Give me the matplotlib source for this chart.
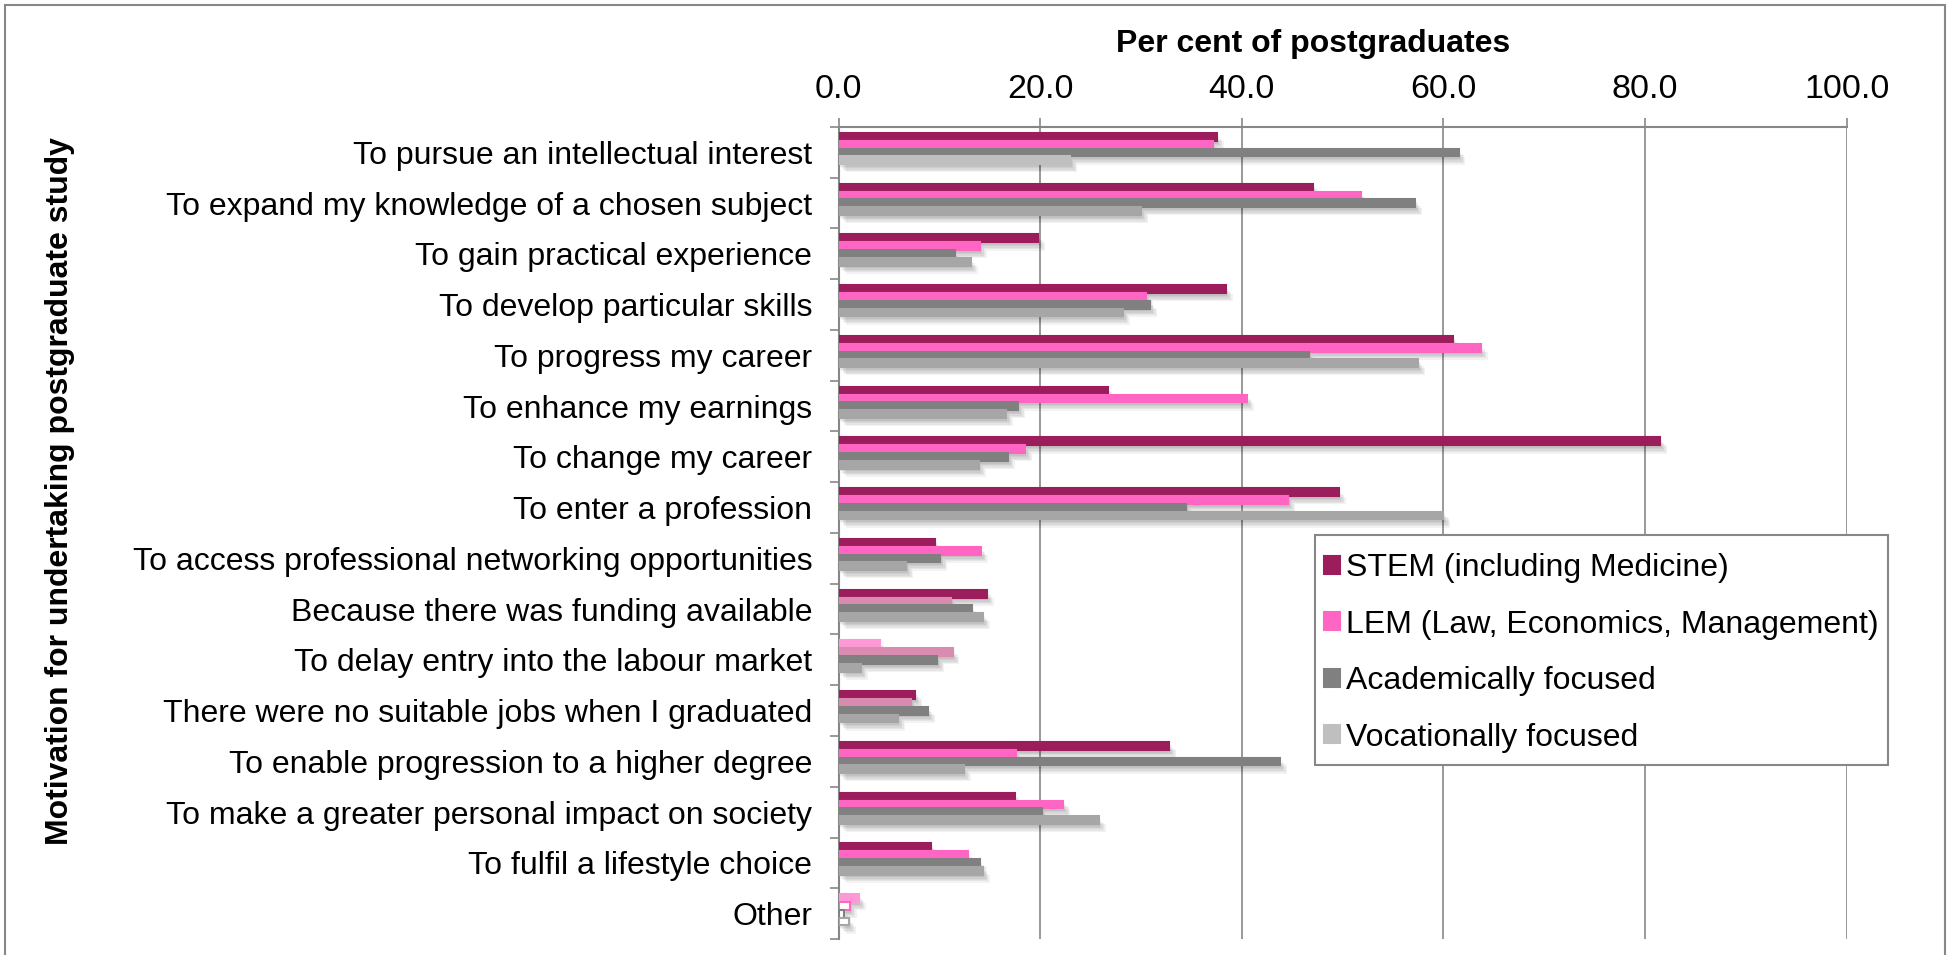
import matplotlib
matplotlib.use("Agg")
import matplotlib.pyplot as plt
import matplotlib.patheffects as pe
from matplotlib.patches import Rectangle
import numpy as np

plt.rcParams['font.family'] = ['Liberation Sans', 'DejaVu Sans']

categories = [
    "To pursue an intellectual interest",
    "To expand my knowledge of a chosen subject",
    "To gain practical experience",
    "To develop particular skills",
    "To progress my career",
    "To enhance my earnings",
    "To change my career",
    "To enter a profession",
    "To access professional networking opportunities",
    "Because there was funding available",
    "To delay entry into the labour market",
    "There were no suitable jobs when I graduated",
    "To enable progression to a higher degree",
    "To make a greater personal impact on society",
    "To fulfil a lifestyle choice",
    "Other",
]

series_names = [
    "STEM (including Medicine)",
    "LEM (Law, Economics, Management)",
    "Academically focused",
    "Vocationally focused",
]

stem = [37.5, 47.1, 19.8, 38.4, 61.0, 26.7, 81.5, 49.6, 9.6, 14.7, 4.1, 7.6, 32.8, 17.5, 9.2, 2.0]
lem = [37.1, 51.8, 14.0, 30.5, 63.7, 40.5, 18.5, 44.6, 14.1, 11.2, 11.3, 7.2, 17.6, 22.3, 12.8, 1.1]
academic = [61.5, 57.2, 11.5, 30.9, 46.7, 17.8, 16.8, 34.5, 10.1, 13.2, 9.8, 8.9, 43.8, 20.2, 14.0, 0.5]
vocational = [23.0, 30.0, 13.1, 28.2, 57.5, 16.6, 13.9, 60.0, 6.7, 14.3, 2.2, 5.9, 12.4, 25.8, 14.3, 1.0]

x_ticks = [0, 20, 40, 60, 80, 100]
x_title = "Per cent of postgraduates"
y_title = "Motivation for undertaking postgraduate study"

# ---- styles ----
series_colors = ["#9B1D5B", "#FF66C4", "#808080", "#A6A6A6"]
# per-point formatting overrides (category index, series index) -> (face, edge)
point_styles = {
    (0, 3): ("#BFBFBF", "#BFBFBF"),
    (9, 1): ("#D98CB0", "#D98CB0"),
    (10, 0): ("#FF99D6", "#FF99D6"),
    (10, 1): ("#D98CB0", "#D98CB0"),
    (11, 1): ("#D98CB0", "#D98CB0"),
    (15, 0): ("#FF99D6", "#FF99D6"),
    (15, 1): ("#FFFFFF", "#FF66C4"),
    (15, 2): ("#FFFFFF", "#808080"),
    (15, 3): ("#FFFFFF", "#A6A6A6"),
}
grid_color = "#878787"
fs = 23

W, H = 1951, 955
fig = plt.figure(figsize=(W / 100, H / 100), dpi=100)
ax_left, ax_right, ax_top, ax_bottom = 838.6, 1846.6, 127, 939
ax = fig.add_axes([ax_left / W, 1 - ax_bottom / H, (ax_right - ax_left) / W, (ax_bottom - ax_top) / H])

all_series = [stem, lem, academic, vocational]
n = len(categories)
bar_h = 0.153
start = 0.118
shadow = [pe.SimplePatchShadow(offset=(k, -k - 1), shadow_rgbFace="k", alpha=0.05) for k in (1, 2, 3, 4, 5)]
shadow.append(pe.Normal())
for si, vals in enumerate(all_series):
    ys = np.arange(n) + start + bar_h * (si + 0.5)
    faces, edges = [], []
    for ci in range(n):
        f, e = point_styles.get((ci, si), (series_colors[si], series_colors[si]))
        faces.append(f)
        edges.append(e)
    bars = ax.barh(ys, vals, height=bar_h, color=faces, edgecolor=edges, linewidth=1.5,
                   label=series_names[si], zorder=3)
    for b in bars:
        b.set_path_effects(shadow)

ax.set_xlim(0, 100)
ax.set_ylim(n, 0)
ax.xaxis.tick_top()
ax.set_xticks(x_ticks)
ax.set_xticklabels([f"{v:.1f}" for v in x_ticks], fontsize=24.5)
ax.tick_params(axis="x", which="major", direction="out", length=6.5, width=1.2,
               color=grid_color, pad=9.5)
ax.set_yticks(np.arange(n + 1))
ax.set_yticklabels([])
ax.set_yticks(np.arange(n) + 0.5, minor=True)
ax.set_yticklabels(categories, minor=True, fontsize=fs)
ax.tick_params(axis="y", which="major", direction="out", length=6.5, width=1.2, color=grid_color)
ax.tick_params(axis="y", which="minor", length=0, pad=19)

ax.grid(axis="x", color=grid_color, linewidth=1.2, zorder=0)
ax.set_axisbelow(True)
for s in ["right", "bottom"]:
    ax.spines[s].set_visible(False)
for s in ["top", "left"]:
    ax.spines[s].set_color(grid_color)
    ax.spines[s].set_linewidth(1.5)

fig.text(1313 / W, 1 - 44 / H, x_title, fontsize=fs, fontweight="bold", ha="center", va="center")
fig.text(60 / W, 1 - 491 / H, y_title, fontsize=fs, fontweight="bold", ha="center", va="center",
         rotation=90)

# legend box drawn explicitly, legend entries placed inside it
leg_box = Rectangle((1315 / W, 1 - 765 / H), (1888 - 1315) / W, (765 - 535) / H,
                    transform=fig.transFigure, facecolor="white", edgecolor=grid_color,
                    linewidth=1.5, zorder=4)
fig.patches.append(leg_box)
leg = fig.legend(*ax.get_legend_handles_labels(), loc="upper left",
                 bbox_to_anchor=(1324 / W, 1 - 553 / H), bbox_transform=fig.transFigure,
                 fontsize=fs, frameon=False,
                 handlelength=0.5, handleheight=0.5, handletextpad=0.2, labelspacing=0.83,
                 borderpad=0, borderaxespad=0)
leg.set_zorder(5)
for h in leg.legend_handles:
    h.set_path_effects([])

# outer chart border (bottom edge lies outside the image)
fig.patches.append(Rectangle((5 / W, -0.05), (1945 - 5) / W, 1 - 5 / H + 0.05, transform=fig.transFigure,
                             fill=False, edgecolor=grid_color, linewidth=1.5))

fig.savefig("out.png", dpi=100)
